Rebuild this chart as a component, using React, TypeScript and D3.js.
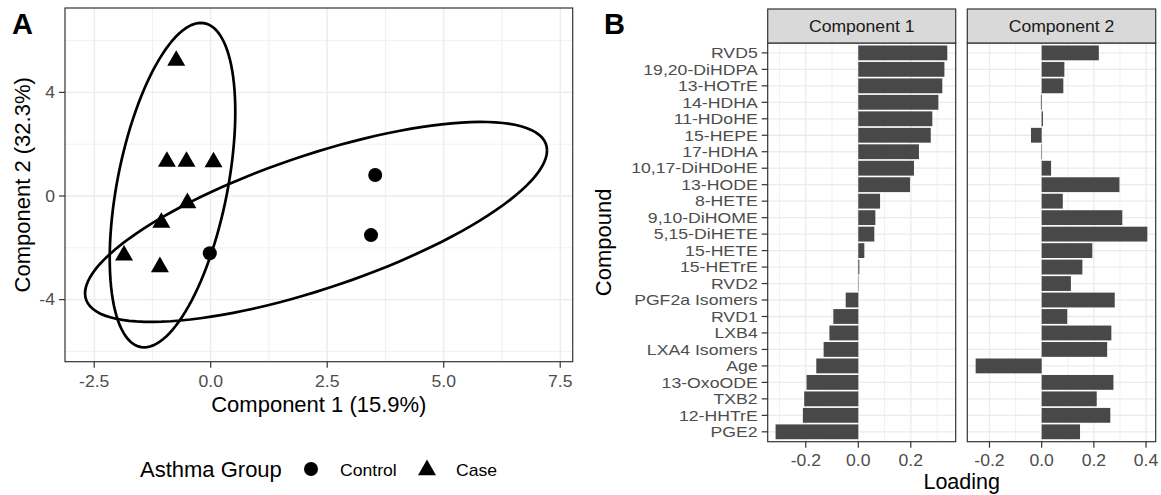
import React, { useRef, useEffect } from "react";
import * as d3 from "d3";

// Panel A: scores
const controlX = [-0.02, 3.53, 3.44];
const controlY = [-2.21, 0.81, -1.51];
const caseX = [-0.74, -0.94, -0.52, 0.06, -0.5, -1.06, -1.86, -1.09];
const caseY = [5.23, 1.33, 1.33, 1.31, -0.27, -1.03, -2.29, -2.74];

// ellipse as [cx, cy, sxx, sxy, syy] in data units
const caseEllipse = [-0.82, 0.42, 1.815, 3.815, 39.23];
const controlEllipse = [2.26, -1.0, 24.57, 13.67, 14.91];

const xTicksA = [-2.5, 0, 2.5, 5, 7.5];
const xMinorA = [-1.25, 1.25, 3.75, 6.25];
const yTicksA = [-4, 0, 4];
const yMinorA = [-6, -2, 2, 6];

// Panel B: loadings
const compounds = [
  "RVD5", "19,20-DiHDPA", "13-HOTrE", "14-HDHA", "11-HDoHE", "15-HEPE",
  "17-HDHA", "10,17-DiHDoHE", "13-HODE", "8-HETE", "9,10-DiHOME", "5,15-DiHETE",
  "15-HETE", "15-HETrE", "RVD2", "PGF2a Isomers", "RVD1", "LXB4",
  "LXA4 Isomers", "Age", "13-OxoODE", "TXB2", "12-HHTrE", "PGE2",
];
const comp1 = [
  0.339, 0.328, 0.32, 0.305, 0.282, 0.276, 0.231, 0.212, 0.197, 0.083, 0.065, 0.061,
  0.023, 0.004, 0.0015, -0.048, -0.095, -0.11, -0.132, -0.16, -0.197, -0.206, -0.211, -0.315,
];
const comp2 = [
  0.219, 0.087, 0.083, -0.003, 0.005, -0.041, -0.002, 0.036, 0.298, 0.081, 0.309, 0.405,
  0.194, 0.156, 0.112, 0.28, 0.098, 0.267, 0.251, -0.253, 0.275, 0.211, 0.263, 0.147,
];
const ticksC1 = [-0.2, 0, 0.2];
const minorC1 = [-0.3, -0.1, 0.1, 0.3];
const ticksC2 = [-0.2, 0, 0.2, 0.4];
const minorC2 = [-0.1, 0.1, 0.3];

const FONT = "'Liberation Sans', Arial, Helvetica, sans-serif";
const GRID = "#EBEBEB";
const DARK = "#333333";
const TICKTXT = "#4D4D4D";

function ellipsePoints(e: number[]) {
  const [cx, cy, sxx, sxy, syy] = e;
  const l11 = Math.sqrt(sxx);
  const l21 = sxy / l11;
  const l22 = Math.sqrt(syy - l21 * l21);
  return d3.range(0, 361, 3).map((deg) => {
    const t = (deg * Math.PI) / 180;
    const c = Math.cos(t), s = Math.sin(t);
    return [cx + l11 * c, cy + l21 * c + l22 * s];
  });
}

// small text, slightly widened like the reference rendering
function small(g: any, x: number, y: number, txt: string, anchor: string, fill: string, size = 16, sx = 1.1, dy = "0") {
  return g.append("text")
    .attr("transform", `translate(${x},${y}) scale(${sx},1)`)
    .attr("dy", dy)
    .attr("text-anchor", anchor).attr("fill", fill)
    .style("font-size", `${size}px`).text(txt);
}

function App() {
  const svgRef = useRef(null);

  useEffect(() => {
    const svg = d3.select(svgRef.current);
    svg.selectAll("*").remove();
    svg.attr("width", 1161).attr("height", 495).style("font-family", FONT);

    svg.append("rect").attr("width", 1161).attr("height", 495).attr("fill", "white");

    // ---------- Panel A ----------
    const pa = { left: 65, right: 572.7, top: 8, bottom: 361.7 };
    const xA = d3.scaleLinear().domain([-3.127, 7.768]).range([pa.left, pa.right]);
    const yA = d3.scaleLinear().domain([-6.398, 7.259]).range([pa.bottom, pa.top]);

    const gA = svg.append("g");
    gA.selectAll(".xminor").data(xMinorA).enter().append("line")
      .attr("x1", (d) => xA(d)).attr("x2", (d) => xA(d))
      .attr("y1", pa.top).attr("y2", pa.bottom)
      .attr("stroke", GRID).attr("stroke-width", 0.7);
    gA.selectAll(".yminor").data(yMinorA).enter().append("line")
      .attr("y1", (d) => yA(d)).attr("y2", (d) => yA(d))
      .attr("x1", pa.left).attr("x2", pa.right)
      .attr("stroke", GRID).attr("stroke-width", 0.7);
    gA.selectAll(".xmajor").data(xTicksA).enter().append("line")
      .attr("x1", (d) => xA(d)).attr("x2", (d) => xA(d))
      .attr("y1", pa.top).attr("y2", pa.bottom)
      .attr("stroke", GRID).attr("stroke-width", 1.3);
    gA.selectAll(".ymajor").data(yTicksA).enter().append("line")
      .attr("y1", (d) => yA(d)).attr("y2", (d) => yA(d))
      .attr("x1", pa.left).attr("x2", pa.right)
      .attr("stroke", GRID).attr("stroke-width", 1.3);

    const line = d3.line<number[]>().x((d) => xA(d[0])).y((d) => yA(d[1]));
    [caseEllipse, controlEllipse].forEach((e) => {
      gA.append("path").attr("d", line(ellipsePoints(e)))
        .attr("fill", "none").attr("stroke", "black").attr("stroke-width", 2.7);
    });

    const tri = d3.symbol().type(d3.symbolTriangle).size(140);
    gA.selectAll(".case").data(caseX).enter().append("path")
      .attr("d", tri)
      .attr("transform", (d, i) => `translate(${xA(d)},${yA(caseY[i])})`)
      .attr("fill", "black");
    gA.selectAll(".ctrl").data(controlX).enter().append("circle")
      .attr("cx", (d) => xA(d)).attr("cy", (d, i) => yA(controlY[i]))
      .attr("r", 7).attr("fill", "black");

    gA.append("rect").attr("x", pa.left).attr("y", pa.top)
      .attr("width", pa.right - pa.left).attr("height", pa.bottom - pa.top)
      .attr("fill", "none").attr("stroke", DARK).attr("stroke-width", 1.2);

    xTicksA.forEach((t) => {
      gA.append("line").attr("x1", xA(t)).attr("x2", xA(t))
        .attr("y1", pa.bottom).attr("y2", pa.bottom + 6)
        .attr("stroke", DARK).attr("stroke-width", 1.2);
      small(gA, xA(t), pa.bottom + 25, t.toFixed(1), "middle", TICKTXT);
    });
    yTicksA.forEach((t) => {
      gA.append("line").attr("x1", pa.left - 6).attr("x2", pa.left)
        .attr("y1", yA(t)).attr("y2", yA(t))
        .attr("stroke", DARK).attr("stroke-width", 1.2);
      small(gA, pa.left - 10, yA(t), String(t), "end", TICKTXT, 16, 1.1, "0.35em");
    });

    gA.append("text").attr("x", (pa.left + pa.right) / 2).attr("y", 412)
      .attr("text-anchor", "middle").style("font-size", "22px").text("Component 1 (15.9%)");
    gA.append("text")
      .attr("transform", `translate(30,${(pa.top + pa.bottom) / 2}) rotate(-90)`)
      .attr("text-anchor", "middle").style("font-size", "22px").text("Component 2 (32.3%)");

    // legend
    gA.append("text").attr("x", 140).attr("y", 477).style("font-size", "22px").text("Asthma Group");
    gA.append("circle").attr("cx", 311).attr("cy", 469).attr("r", 7).attr("fill", "black");
    small(gA, 340, 476, "Control", "start", "black");
    gA.append("path").attr("d", tri).attr("transform", "translate(427,470)").attr("fill", "black");
    small(gA, 456, 476, "Case", "start", "black");

    gA.append("text").attr("x", 12).attr("y", 34).style("font-size", "29px")
      .style("font-weight", "bold").text("A");

    // ---------- Panel B ----------
    const pTop = 43, pBottom = 441.7, sTop = 9;
    const y = d3.scaleBand().domain(compounds).range([pTop, pBottom])
      .paddingInner(0.1).paddingOuter(0.15);
    const facets = [
      { name: "Component 1", values: comp1, left: 767.7, right: 955.7, domain: [-0.345, 0.371], ticks: ticksC1, minor: minorC1 },
      { name: "Component 2", values: comp2, left: 967.3, right: 1155.7, domain: [-0.285, 0.437], ticks: ticksC2, minor: minorC2 },
    ];

    const gB = svg.append("g");
    facets.forEach((f, fi) => {
      const x = d3.scaleLinear().domain(f.domain).range([f.left, f.right]);
      const g = gB.append("g");
      f.minor.forEach((t) => {
        g.append("line").attr("x1", x(t)).attr("x2", x(t)).attr("y1", pTop).attr("y2", pBottom)
          .attr("stroke", GRID).attr("stroke-width", 0.7);
      });
      f.ticks.forEach((t) => {
        g.append("line").attr("x1", x(t)).attr("x2", x(t)).attr("y1", pTop).attr("y2", pBottom)
          .attr("stroke", GRID).attr("stroke-width", 1.3);
      });
      compounds.forEach((c) => {
        const yc = (y(c) as number) + y.bandwidth() / 2;
        g.append("line").attr("x1", f.left).attr("x2", f.right).attr("y1", yc).attr("y2", yc)
          .attr("stroke", GRID).attr("stroke-width", 1.3);
      });
      g.selectAll(".bar").data(f.values).enter().append("rect")
        .attr("x", (d) => Math.min(x(0), x(d)))
        .attr("width", (d) => Math.abs(x(d) - x(0)))
        .attr("y", (d, i) => y(compounds[i]) as number)
        .attr("height", y.bandwidth())
        .attr("fill", "#484848");
      g.append("rect").attr("x", f.left).attr("y", pTop)
        .attr("width", f.right - f.left).attr("height", pBottom - pTop)
        .attr("fill", "none").attr("stroke", DARK).attr("stroke-width", 1.2);
      g.append("rect").attr("x", f.left).attr("y", sTop)
        .attr("width", f.right - f.left).attr("height", pTop - sTop)
        .attr("fill", "#D9D9D9").attr("stroke", DARK).attr("stroke-width", 1.2);
      small(g, (f.left + f.right) / 2, 32, f.name, "middle", "#1A1A1A");
      f.ticks.forEach((t) => {
        g.append("line").attr("x1", x(t)).attr("x2", x(t)).attr("y1", pBottom).attr("y2", pBottom + 6)
          .attr("stroke", DARK).attr("stroke-width", 1.2);
        small(g, x(t), pBottom + 24, t.toFixed(1), "middle", TICKTXT);
      });
      if (fi === 0) {
        compounds.forEach((c) => {
          const yc = (y(c) as number) + y.bandwidth() / 2;
          g.append("line").attr("x1", f.left - 6).attr("x2", f.left).attr("y1", yc).attr("y2", yc)
            .attr("stroke", DARK).attr("stroke-width", 1.2);
          small(g, f.left - 10, yc, c, "end", TICKTXT, 14.6, 1.21, "0.36em");
        });
      }
    });

    gB.append("text").attr("x", (767.7 + 1155.7) / 2).attr("y", 489)
      .attr("text-anchor", "middle").style("font-size", "21.5px").text("Loading");
    gB.append("text")
      .attr("transform", `translate(611,${(pTop + pBottom) / 2}) rotate(-90)`)
      .attr("text-anchor", "middle").style("font-size", "22px").text("Compound");
    gB.append("text").attr("x", 604).attr("y", 34).style("font-size", "29px")
      .style("font-weight", "bold").text("B");
  }, []);

  return (
    <svg ref={svgRef} style={{ position: "absolute", left: 0, top: 0, display: "block" }}></svg>
  );
}

export default App;
